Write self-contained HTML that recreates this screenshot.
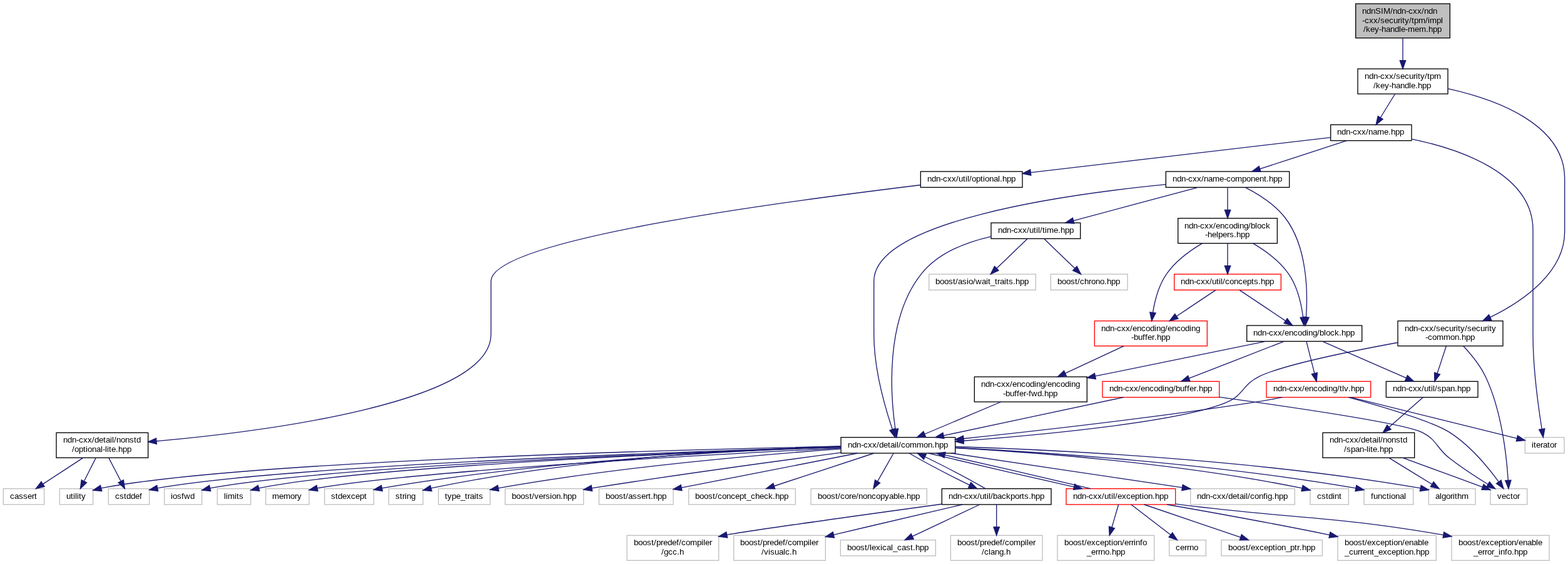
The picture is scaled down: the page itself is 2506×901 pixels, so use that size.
<!DOCTYPE html>
<html lang="en">
<head>
<meta charset="utf-8">
<title>ndnSIM/ndn-cxx/ndn-cxx/security/tpm/impl/key-handle-mem.hpp include dependency graph</title>
<style>
html,body{margin:0;padding:0;background:#fff;}
html,body{width:2506px;height:901px;}
svg{display:block;}
svg text{font-family:"Liberation Sans",Arial,Helvetica,sans-serif;font-size:13.3333px;fill:#000;}
.t{filter:grayscale(1);}
.n rect{stroke-width:1.3333px;fill:#fff;}
.n rect.k{stroke:#000;}
.n rect.g{stroke:#bfbfbf;}
.n rect.r{stroke:#f00;}
.n rect.root{stroke:#000;fill:#bfbfbf;}
.e path{fill:none;stroke:#191970;stroke-width:1.3333px;}
.e polygon{fill:#191970;stroke:#191970;stroke-width:1.3333px;}
</style>
</head>
<body>
<svg width="2506" height="901" viewBox="0 0 2506 901">
<rect x="0" y="0" width="2506" height="901" fill="#fff"/>
<g class="n">
<rect class="root" x="2166.67" y="6" width="150.67" height="54.67"/>
<rect class="k" x="2170" y="110" width="144" height="40"/>
<rect class="k" x="2126.67" y="199.33" width="129.33" height="25.33"/>
<rect class="k" x="2234" y="512.67" width="168" height="40"/>
<rect class="k" x="1863.33" y="274" width="197.33" height="25.33"/>
<rect class="g" x="2437.33" y="698.67" width="62.67" height="25.33"/>
<rect class="k" x="1471.33" y="274" width="162.67" height="25.33"/>
<rect class="k" x="1344" y="698.67" width="182.67" height="25.33"/>
<rect class="k" x="1992.67" y="520" width="184" height="25.33"/>
<rect class="k" x="1882.67" y="348.67" width="158.67" height="40"/>
<rect class="k" x="1584" y="356" width="142.67" height="25.33"/>
<rect class="g" x="1902.67" y="780.67" width="166.67" height="25.33"/>
<rect class="g" x="2283.33" y="780.67" width="74.67" height="25.33"/>
<rect class="g" x="173.33" y="780.67" width="65.33" height="25.33"/>
<rect class="g" x="2094" y="780.67" width="61.33" height="25.33"/>
<rect class="g" x="2180" y="780.67" width="78.67" height="25.33"/>
<rect class="g" x="262.67" y="780.67" width="60" height="25.33"/>
<rect class="g" x="347.33" y="780.67" width="53.33" height="25.33"/>
<rect class="g" x="424.67" y="780.67" width="69.33" height="25.33"/>
<rect class="g" x="518.67" y="780.67" width="78.67" height="25.33"/>
<rect class="g" x="621.33" y="780.67" width="54.67" height="25.33"/>
<rect class="g" x="700.67" y="780.67" width="82.67" height="25.33"/>
<rect class="g" x="95.33" y="780.67" width="53.33" height="25.33"/>
<rect class="g" x="807.33" y="780.67" width="125.33" height="25.33"/>
<rect class="g" x="957.33" y="780.67" width="118.67" height="25.33"/>
<rect class="g" x="1100.67" y="780.67" width="170.67" height="25.33"/>
<rect class="g" x="1296" y="780.67" width="185.33" height="25.33"/>
<rect class="k" x="1505.33" y="780.67" width="174.67" height="25.33"/>
<rect class="r" x="1704" y="780.67" width="174.67" height="25.33"/>
<rect class="g" x="1519.33" y="855.33" width="146.67" height="40"/>
<rect class="g" x="1002" y="855.33" width="146.67" height="40"/>
<rect class="g" x="1172.67" y="855.33" width="146.67" height="40"/>
<rect class="g" x="1343.33" y="862.67" width="152" height="25.33"/>
<rect class="g" x="1868.67" y="862.67" width="58.67" height="25.33"/>
<rect class="g" x="1952" y="862.67" width="161.33" height="25.33"/>
<rect class="g" x="2138" y="855.33" width="157.33" height="40"/>
<rect class="g" x="2320" y="855.33" width="156" height="40"/>
<rect class="g" x="1690" y="855.33" width="154.67" height="40"/>
<rect class="r" x="1762" y="609.33" width="186.67" height="25.33"/>
<rect class="k" x="1557.33" y="602" width="180" height="40"/>
<rect class="r" x="2024" y="609.33" width="166.67" height="25.33"/>
<rect class="k" x="2215.33" y="609.33" width="146.67" height="25.33"/>
<rect class="g" x="2382" y="780.67" width="58.67" height="25.33"/>
<rect class="k" x="2114" y="691.33" width="146.67" height="40"/>
<rect class="r" x="1749.33" y="512.67" width="180" height="40"/>
<rect class="r" x="1876.67" y="438" width="170.67" height="25.33"/>
<rect class="g" x="1484.67" y="438" width="170.67" height="25.33"/>
<rect class="g" x="1679.33" y="438" width="122.67" height="25.33"/>
<rect class="k" x="90" y="691.33" width="146.67" height="40"/>
<rect class="g" x="5.33" y="780.67" width="65.33" height="25.33"/>
</g>
<g class="e">
<path d="M2242,60.67C2242,71.86 2242,84.92 2242,96.67"/><polygon points="2237.33,96.67 2242,110 2246.67,96.67"/>
<path d="M2229.64,150C2222.56,161.46 2213.63,175.92 2206.17,187.99"/><polygon points="2202.2,185.54 2199.16,199.33 2210.14,190.44"/>
<path d="M2314,141.61C2390.54,158.52 2500.67,198.03 2500.67,285.33C2500.67,285.33 2500.67,285.33 2500.67,370C2500.67,435.28 2434.33,480.95 2381.61,506.95"/><polygon points="2379.6,502.73 2369.56,512.67 2383.61,511.16"/>
<path d="M2152.43,224.67C2114.21,237.11 2055.67,256.17 2013.58,269.87"/><polygon points="2012.14,265.43 2000.9,274 2015.03,274.31"/>
<path d="M2256,222.04C2332.62,238.02 2450,277.21 2450,367.33C2450,367.33 2450,367.33 2450,534C2450,587.8 2458.73,650.96 2464.25,685.51"/><polygon points="2459.65,686.27 2466.42,698.67 2468.86,684.75"/>
<path d="M2126.67,219.56C2013.42,232.8 1778.75,260.24 1647.24,275.61"/><polygon points="1646.7,270.97 1634,277.16 1647.79,280.24"/>
<path d="M1863.33,294.71C1701.31,310.67 1396.67,353.43 1396.67,449.33C1396.67,449.33 1396.67,449.33 1396.67,534C1396.67,588.91 1414.85,651.9 1426.27,686.06"/><polygon points="1421.86,687.59 1430.63,698.67 1430.69,684.54"/>
<path d="M1990.25,299.33C2010.64,309.78 2037.39,326.38 2054,348C2089.71,394.47 2090.19,467.94 2087.45,506.72"/><polygon points="2082.8,506.31 2086.28,520 2092.1,507.13"/>
<path d="M1962,299.33C1962,308.96 1962,322.65 1962,335.33"/><polygon points="1957.33,335.33 1962,348.67 1966.67,335.33"/>
<path d="M1914.63,299.33C1861.11,313.64 1773.9,336.96 1715.59,352.56"/><polygon points="1714.38,348.05 1702.7,356 1716.79,357.06"/>
<path d="M1520.4,724C1620.13,738.85 1785.04,763.41 1889.48,778.96"/><polygon points="1888.79,783.58 1902.67,780.92 1890.17,774.34"/>
<path d="M1526.67,713.51C1680.93,718.38 2002.47,733.64 2270.27,779.93"/><polygon points="2269.34,784.5 2283.33,782.6 2271.2,775.36"/>
<path d="M1344,713.88C1104.54,721.01 462.54,743.06 251.7,779.82"/><polygon points="250.71,775.26 238.67,782.64 252.69,784.38"/>
<path d="M1526.67,715.5C1652.52,722.48 1885.86,739.96 2081.05,779.94"/><polygon points="2079.94,784.47 2094,783.1 2082.15,775.41"/>
<path d="M1526.67,715.28C1665.71,722.32 1938.46,740.21 2166.93,779.93"/><polygon points="2166.01,784.5 2180,782.55 2167.85,775.35"/>
<path d="M1344,714.21C1116.44,721.82 528.64,744.4 335.65,779.94"/><polygon points="334.59,775.4 322.67,782.97 336.71,784.49"/>
<path d="M1344,714.37C1128.15,722.04 591.35,744.16 413.58,779.82"/><polygon points="412.43,775.29 400.67,783.12 414.74,784.34"/>
<path d="M1344,715.75C1142.79,725.85 666.55,751.96 507.04,779.93"/><polygon points="506.07,775.37 494,782.71 508.01,784.5"/>
<path d="M1344,713.82C1191.24,719.12 874.62,734.97 610.42,779.82"/><polygon points="609.52,775.24 597.33,782.39 611.32,784.39"/>
<path d="M1344,712.99C1202.32,717.07 921.63,731.17 688.91,779.95"/><polygon points="687.73,775.43 676,783.3 690.08,784.47"/>
<path d="M1344,717.15C1219.55,725.97 990.02,745.47 796.41,779.81"/><polygon points="795.5,775.23 783.33,782.41 797.32,784.39"/>
<path d="M1344,713.02C1091.69,718.21 388.78,736.27 161.6,779.95"/><polygon points="160.45,775.42 148.67,783.21 162.74,784.47"/>
<path d="M1344,723.13C1245.59,736.08 1084.44,757.96 945.83,779.92"/><polygon points="945.08,775.32 932.67,782.07 946.58,784.53"/>
<path d="M1370.66,724C1294.53,738.91 1168.43,763.61 1089.08,779.15"/><polygon points="1088.19,774.57 1076,781.71 1089.98,783.73"/>
<path d="M1396.82,724C1353.97,738.09 1284.56,760.92 1237.18,776.5"/><polygon points="1235.72,772.07 1224.51,780.67 1238.64,780.93"/>
<path d="M1428.12,724C1421.3,735.98 1410.89,754.29 1402.47,769.08"/><polygon points="1398.41,766.77 1395.88,780.67 1406.53,771.39"/>
<path d="M1452.92,724C1476.35,737.61 1517.8,759.38 1549.62,774.89"/><polygon points="1547.6,779.1 1561.64,780.67 1551.65,770.69"/>
<path d="M1483.6,724C1543.62,738.48 1646.4,762.2 1716.6,777.79"/><polygon points="1715.59,782.34 1729.62,780.67 1717.61,773.23"/>
<path d="M1575.08,780.67C1551.65,767.05 1510.2,745.29 1478.38,729.77"/><polygon points="1480.4,725.57 1466.36,724 1476.35,733.98"/>
<path d="M1592.67,806C1592.67,815.62 1592.67,829.32 1592.67,842"/><polygon points="1588,842 1592.67,855.33 1597.33,842"/>
<path d="M1505.33,805.27C1390.13,821.09 1197.72,847.78 1161.74,854.46"/><polygon points="1160.82,849.89 1148.67,857.09 1162.66,859.04"/>
<path d="M1538.19,806C1485.55,818.27 1403.52,837.46 1332.3,854.44"/><polygon points="1331.22,849.9 1319.33,857.54 1333.39,858.97"/>
<path d="M1565.89,806C1537.07,819.63 1490.96,841.45 1458.16,856.96"/><polygon points="1456.17,852.75 1446.11,862.67 1460.16,861.18"/>
<path d="M1743.06,780.67C1683.04,766.18 1580.26,742.47 1510.07,726.88"/><polygon points="1511.07,722.32 1497.05,724 1509.06,731.44"/>
<path d="M1807.81,806C1824.64,818.94 1851.05,839.24 1870.95,854.54"/><polygon points="1868.11,858.24 1881.52,862.67 1873.8,850.84"/>
<path d="M1828.61,806C1869.97,820.05 1936.91,842.8 1982.76,858.38"/><polygon points="1981.26,862.8 1995.39,862.67 1984.26,853.96"/>
<path d="M1865.18,806C1932.87,817.82 2035.83,836.34 2124.95,854.59"/><polygon points="2123.99,859.16 2138,857.32 2125.9,850.02"/>
<path d="M1878.67,805.15C1882.72,805.67 1886.74,806.18 1890.67,806.67C2075.49,829.72 2123.51,823.25 2306.88,854.59"/><polygon points="2306.05,859.18 2320,856.98 2307.72,850"/>
<path d="M1787.63,806C1784.77,815.76 1780.69,829.71 1776.93,842.54"/><polygon points="1772.45,841.23 1773.19,855.33 1781.41,843.85"/>
<path d="M2052.15,545.33C2012.41,560.81 1944.96,587.09 1900.27,604.49"/><polygon points="1898.58,600.15 1887.85,609.33 1901.97,608.84"/>
<path d="M2022.66,545.33C1951.86,559.79 1834.95,583.68 1750.4,600.95"/><polygon points="1749.46,596.38 1737.33,603.62 1751.33,605.52"/>
<path d="M2087.88,545.33C2091.24,558.56 2096.6,579.68 2100.84,596.41"/><polygon points="2096.32,597.56 2104.12,609.33 2105.36,595.26"/>
<path d="M2113.59,545.33C2148.6,560.66 2207.78,586.58 2247.53,603.98"/><polygon points="2245.66,608.26 2259.74,609.33 2249.4,599.71"/>
<path d="M1795.78,634.67C1720.06,650.77 1589.4,678.56 1507.93,695.89"/><polygon points="1506.96,691.33 1494.89,698.67 1508.9,700.46"/>
<path d="M1948.67,634.44C2062.72,650.1 2244.12,676.63 2272.67,690.67C2296.75,702.51 2295.47,715.56 2316.67,732C2336.15,747.1 2359.52,762.27 2378.17,773.75"/><polygon points="2375.75,777.74 2389.57,780.67 2380.59,769.76"/>
<path d="M1599.87,642C1563.22,657.44 1512.97,678.62 1477.68,693.49"/><polygon points="1475.87,689.19 1465.39,698.67 1479.49,697.79"/>
<path d="M2049.27,634.67C2034.74,637.57 2019.16,640.45 2004.67,642.67C1843.01,667.42 1654.35,688.69 1539.93,700.74"/><polygon points="1539.44,696.1 1526.67,702.13 1540.41,705.38"/>
<path d="M2154.91,634.67C2207.87,649.28 2289.58,673.48 2316.67,690.67C2349.3,711.37 2378.24,746.49 2395.28,769.79"/><polygon points="2391.47,772.49 2402.99,780.67 2399.08,767.09"/>
<path d="M2158.57,634.67C2229.69,652.25 2357.17,683.77 2424.39,700.39"/><polygon points="2423.27,704.92 2437.33,703.59 2425.51,695.86"/>
<path d="M2274.3,634.67C2260.24,647.06 2238.33,666.37 2220.02,682.52"/><polygon points="2216.94,679.02 2210.02,691.33 2223.11,686.02"/>
<path d="M2219.85,731.33C2240.79,744.21 2267.89,760.87 2288.71,773.68"/><polygon points="2286.27,777.66 2300.07,780.67 2291.16,769.71"/>
<path d="M2241.97,731.33C2281.26,745.72 2333.47,764.83 2369.48,778.01"/><polygon points="2367.88,782.39 2382,782.6 2371.08,773.63"/>
<path d="M2002.36,388.67C2022.22,400.38 2044.92,416.9 2059.33,437.33C2073.69,457.68 2079.91,486.2 2082.61,506.74"/><polygon points="2077.97,507.23 2084.01,520 2087.25,506.25"/>
<path d="M1921.64,388.67C1901.78,400.38 1879.08,416.9 1864.67,437.33C1851.94,455.38 1845.6,479.83 1842.45,499.45"/><polygon points="1837.83,498.83 1840.68,512.67 1847.08,500.07"/>
<path d="M1962,388.67C1962,399.5 1962,413.02 1962,424.67"/><polygon points="1957.33,424.67 1962,438 1966.67,424.67"/>
<path d="M1796.35,552.67C1768.61,565.57 1732.26,582.49 1702.41,596.38"/><polygon points="1700.44,592.14 1690.32,602 1704.38,600.61"/>
<path d="M1980.95,463.33C2000.61,476.47 2031.63,497.21 2054.63,512.59"/><polygon points="2052.04,516.47 2065.72,520 2057.23,508.71"/>
<path d="M1943.05,463.33C1926.38,474.48 1901.53,491.09 1880.34,505.26"/><polygon points="1877.74,501.38 1869.25,512.67 1882.93,509.14"/>
<path d="M1584,377.78C1545.17,386.53 1499.68,403.7 1472.67,437.33C1413.93,510.44 1423.31,632.52 1430.89,685.49"/><polygon points="1426.28,686.21 1432.95,698.67 1435.5,684.77"/>
<path d="M1642.15,381.33C1629.01,393.96 1608.57,413.6 1592.8,428.76"/><polygon points="1589.56,425.4 1583.18,438 1596.03,432.13"/>
<path d="M1668.51,381.33C1681.65,393.96 1702.1,413.6 1717.87,428.76"/><polygon points="1714.64,432.13 1727.49,438 1721.1,425.4"/>
<path d="M1471.33,295.47C1279.33,319.2 784.67,380.4 784.67,449.33C784.67,449.33 784.67,449.33 784.67,534C784.67,643.82 420.77,689.41 249.95,704.76"/><polygon points="249.54,700.11 236.67,705.93 250.36,709.41"/>
<path d="M173.74,731.33C179.62,742.64 187.03,756.87 193.25,768.84"/><polygon points="189.12,770.99 199.41,780.67 197.39,766.68"/>
<path d="M153.25,731.33C147.56,742.62 140.41,756.8 134.39,768.76"/><polygon points="130.22,766.66 128.38,780.67 138.55,770.86"/>
<path d="M132.76,731.33C113.24,744.11 88.03,760.6 68.52,773.37"/><polygon points="65.96,769.46 57.36,780.67 71.07,777.27"/>
<path d="M2234,547.24C2157.64,561.26 2051.21,582.98 2012.67,601.33C1986.01,614.03 1987.87,631.19 1960.67,642.67C1887,673.78 1670.92,694.31 1539.96,704.28"/><polygon points="1539.61,699.63 1526.67,705.28 1540.31,708.93"/>
<path d="M2338.66,552.67C2350.79,565.55 2365.39,583.22 2374,601.33C2400.11,656.28 2407.96,729.11 2410.32,767.35"/><polygon points="2405.66,767.59 2411,780.67 2414.98,767.11"/>
<path d="M2311.43,552.67C2307.16,565.66 2301.56,582.72 2296.99,596.67"/><polygon points="2292.55,595.21 2292.83,609.33 2301.42,598.12"/>
</g>
<g class="t">
<text x="2177 2184 2191 2198 2207 2211 2222 2226 2233 2240 2247 2251 2258 2265 2272 2276 2283 2290" y="22">ndnSIM/ndn-cxx/ndn</text>
<text x="2177 2181 2188 2195 2202 2206 2213 2220 2227 2234 2238 2241 2245 2252 2256 2260 2267 2278 2282 2285 2296 2303" y="37">-cxx/security/tpm/impl</text>
<text x="2179 2183 2190 2197 2204 2208 2215 2222 2229 2236 2239 2246 2250 2261 2268 2279 2283 2290 2297" y="51">/key-handle-mem.hpp</text>
<text x="2181 2188 2195 2202 2206 2213 2220 2227 2231 2238 2245 2252 2259 2263 2266 2270 2277 2281 2285 2292" y="126">ndn-cxx/security/tpm</text>
<text x="2195 2199 2206 2213 2220 2224 2231 2238 2245 2252 2255 2262 2266 2273 2280" y="141">/key-handle.hpp</text>
<text x="2137 2144 2151 2158 2162 2169 2176 2183 2187 2194 2201 2212 2219 2223 2230 2237" y="215">ndn-cxx/name.hpp</text>
<text x="2245 2252 2259 2266 2270 2277 2284 2291 2295 2302 2309 2316 2323 2327 2330 2334 2341 2345 2352 2359 2366 2373 2377 2380 2384" y="529">ndn-cxx/security/security</text>
<text x="2278 2282 2289 2296 2307 2318 2325 2332 2336 2343 2350" y="543">-common.hpp</text>
<text x="1874 1881 1888 1895 1899 1906 1913 1920 1924 1931 1938 1949 1956 1960 1967 1974 1985 1992 1999 2006 2013 2020 2024 2028 2035 2042" y="290">ndn-cxx/name-component.hpp</text>
<text x="2448 2451 2455 2462 2466 2473 2477 2484" y="715">iterator</text>
<text x="1482 1489 1496 1503 1507 1514 1521 1528 1532 1539 1543 1546 1549 1553 1560 1567 1571 1574 1581 1588 1595 1598 1602 1609 1616" y="290">ndn-cxx/util/optional.hpp</text>
<text x="1355 1362 1369 1376 1380 1387 1394 1401 1405 1412 1419 1423 1430 1433 1436 1440 1447 1454 1465 1476 1483 1490 1494 1501 1508" y="715">ndn-cxx/detail/common.hpp</text>
<text x="2003 2010 2017 2024 2028 2035 2042 2049 2053 2060 2067 2074 2081 2088 2091 2098 2105 2109 2116 2119 2126 2133 2140 2144 2151 2158" y="536">ndn-cxx/encoding/block.hpp</text>
<text x="1893 1900 1907 1914 1918 1925 1932 1939 1943 1950 1957 1964 1971 1978 1981 1988 1995 1999 2006 2009 2016 2023" y="365">ndn-cxx/encoding/block</text>
<text x="1926 1930 1937 1944 1947 1954 1961 1965 1972 1976 1983 1990" y="379">-helpers.hpp</text>
<text x="1595 1602 1609 1616 1620 1627 1634 1641 1645 1652 1656 1659 1662 1666 1670 1673 1684 1691 1695 1702 1709" y="372">ndn-cxx/util/time.hpp</text>
<text x="1913 1920 1927 1934 1938 1945 1952 1959 1963 1970 1977 1981 1988 1991 1994 1998 2005 2012 2019 2023 2026 2033 2037 2044 2051" y="797">ndn-cxx/detail/config.hpp</text>
<text x="2294 2301 2304 2311 2318 2322 2325 2329 2336" y="797">algorithm</text>
<text x="184 191 198 202 209 216 223" y="797">cstddef</text>
<text x="2105 2112 2119 2123 2130 2133 2140" y="797">cstdint</text>
<text x="2191 2195 2202 2209 2216 2220 2223 2230 2237 2244" y="797">functional</text>
<text x="273 276 283 290 294 304" y="797">iosfwd</text>
<text x="358 361 364 375 378 382" y="797">limits</text>
<text x="435 446 453 464 471 475" y="797">memory</text>
<text x="529 536 540 547 554 561 568 575 582" y="797">stdexcept</text>
<text x="632 639 643 647 650 657" y="797">string</text>
<text x="711 715 722 729 736 743 747 751 758 761 765" y="797">type_traits</text>
<text x="106 113 117 120 123 126 130" y="797">utility</text>
<text x="818 825 832 839 846 850 854 861 868 872 879 882 889 896 900 907 914" y="797">boost/version.hpp</text>
<text x="968 975 982 989 996 1000 1004 1011 1018 1025 1032 1036 1040 1044 1051 1058" y="797">boost/assert.hpp</text>
<text x="1111 1118 1125 1132 1139 1143 1147 1154 1161 1168 1175 1182 1189 1193 1200 1207 1214 1221 1228 1235 1239 1246 1253" y="797">boost/concept_check.hpp</text>
<text x="1307 1314 1321 1328 1335 1339 1343 1350 1357 1361 1368 1372 1379 1386 1393 1400 1407 1414 1421 1428 1435 1438 1445 1449 1456 1463" y="797">boost/core/noncopyable.hpp</text>
<text x="1516 1523 1530 1537 1541 1548 1555 1562 1566 1573 1577 1580 1583 1587 1594 1601 1608 1615 1622 1629 1633 1637 1644 1648 1655 1662" y="797">ndn-cxx/util/backports.hpp</text>
<text x="1715 1722 1729 1736 1740 1747 1754 1761 1765 1772 1776 1779 1782 1786 1793 1800 1807 1814 1821 1825 1828 1835 1842 1846 1853 1860" y="797">ndn-cxx/util/exception.hpp</text>
<text x="1530 1537 1544 1551 1558 1562 1566 1573 1577 1584 1591 1598 1602 1606 1613 1620 1631 1638 1641 1644 1651" y="871">boost/predef/compiler</text>
<text x="1569 1573 1580 1583 1590 1597 1604 1608" y="886">/clang.h</text>
<text x="1013 1020 1027 1034 1041 1045 1049 1056 1060 1067 1074 1081 1085 1089 1096 1103 1114 1121 1124 1127 1134" y="871">boost/predef/compiler</text>
<text x="1057 1061 1068 1075 1082 1086" y="886">/gcc.h</text>
<text x="1183 1190 1197 1204 1211 1215 1219 1226 1230 1237 1244 1251 1255 1259 1266 1273 1284 1291 1294 1297 1304" y="871">boost/predef/compiler</text>
<text x="1217 1221 1228 1231 1238 1245 1252 1255 1262 1266" y="886">/visualc.h</text>
<text x="1354 1361 1368 1375 1382 1386 1390 1393 1400 1407 1410 1417 1424 1427 1434 1441 1448 1455 1459 1463 1470 1477" y="879">boost/lexical_cast.hpp</text>
<text x="1879 1886 1893 1897 1901 1908" y="879">cerrno</text>
<text x="1963 1970 1977 1984 1991 1995 1999 2006 2013 2020 2027 2034 2038 2041 2048 2055 2062 2069 2073 2077 2081 2088 2095" y="879">boost/exception_ptr.hpp</text>
<text x="2149 2156 2163 2170 2177 2181 2185 2192 2199 2206 2213 2220 2224 2227 2234 2241 2245 2252 2259 2266 2273 2276" y="871">boost/exception/enable</text>
<text x="2149 2156 2163 2170 2174 2178 2185 2192 2196 2203 2210 2217 2224 2231 2238 2242 2245 2252 2259 2263 2270 2277" y="886">_current_exception.hpp</text>
<text x="2331 2338 2345 2352 2359 2363 2367 2374 2381 2388 2395 2402 2406 2409 2416 2423 2427 2434 2441 2448 2455 2458" y="871">boost/exception/enable</text>
<text x="2355 2362 2369 2373 2377 2384 2388 2395 2398 2405 2409 2416 2420 2427 2434" y="886">_error_info.hpp</text>
<text x="1701 1708 1715 1722 1729 1733 1737 1744 1751 1758 1765 1772 1776 1779 1786 1793 1797 1804 1808 1812 1815 1822 1826" y="871">boost/exception/errinfo</text>
<text x="1737 1744 1751 1755 1759 1766 1773 1777 1784 1791" y="886">_errno.hpp</text>
<text x="1773 1780 1787 1794 1798 1805 1812 1819 1823 1830 1837 1844 1851 1858 1861 1868 1875 1879 1886 1893 1897 1901 1908 1912 1916 1923 1930" y="625">ndn-cxx/encoding/buffer.hpp</text>
<text x="1568 1575 1582 1589 1593 1600 1607 1614 1618 1625 1632 1639 1646 1653 1656 1663 1670 1674 1681 1688 1695 1702 1709 1712 1719" y="618">ndn-cxx/encoding/encoding</text>
<text x="1603 1607 1614 1621 1625 1629 1636 1640 1644 1648 1658 1665 1669 1676 1683" y="633">-buffer-fwd.hpp</text>
<text x="2035 2042 2049 2056 2060 2067 2074 2081 2085 2092 2099 2106 2113 2120 2123 2130 2137 2141 2145 2148 2155 2159 2166 2173" y="625">ndn-cxx/encoding/tlv.hpp</text>
<text x="2226 2233 2240 2247 2251 2258 2265 2272 2276 2283 2287 2290 2293 2297 2304 2311 2318 2325 2329 2336 2343" y="625">ndn-cxx/util/span.hpp</text>
<text x="2393 2400 2407 2414 2418 2425" y="797">vector</text>
<text x="2125 2132 2139 2146 2150 2157 2164 2171 2175 2182 2189 2193 2200 2203 2206 2210 2217 2224 2231 2238 2242" y="707">ndn-cxx/detail/nonstd</text>
<text x="2148 2152 2159 2166 2173 2180 2184 2187 2190 2194 2201 2205 2212 2219" y="722">/span-lite.hpp</text>
<text x="1760 1767 1774 1781 1785 1792 1799 1806 1810 1817 1824 1831 1838 1845 1848 1855 1862 1866 1873 1880 1887 1894 1901 1904 1911" y="529">ndn-cxx/encoding/encoding</text>
<text x="1808 1812 1819 1826 1830 1834 1841 1845 1849 1856 1863" y="543">-buffer.hpp</text>
<text x="1887 1894 1901 1908 1912 1919 1926 1933 1937 1944 1948 1951 1954 1958 1965 1972 1979 1986 1993 2000 2004 2011 2015 2022 2029" y="454">ndn-cxx/util/concepts.hpp</text>
<text x="1495 1502 1509 1516 1523 1527 1531 1538 1545 1548 1555 1559 1569 1576 1579 1583 1590 1594 1598 1605 1608 1612 1619 1623 1630 1637" y="454">boost/asio/wait_traits.hpp</text>
<text x="1690 1697 1704 1711 1718 1722 1726 1733 1740 1744 1751 1758 1765 1769 1776 1783" y="454">boost/chrono.hpp</text>
<text x="101 108 115 122 126 133 140 147 151 158 165 169 176 179 182 186 193 200 207 214 218" y="707">ndn-cxx/detail/nonstd</text>
<text x="115 119 126 133 137 140 147 154 161 164 168 171 174 178 185 189 196 203" y="722">/optional-lite.hpp</text>
<text x="16 23 30 37 44 51 55" y="797">cassert</text>
</g>
</svg>
</body>
</html>
